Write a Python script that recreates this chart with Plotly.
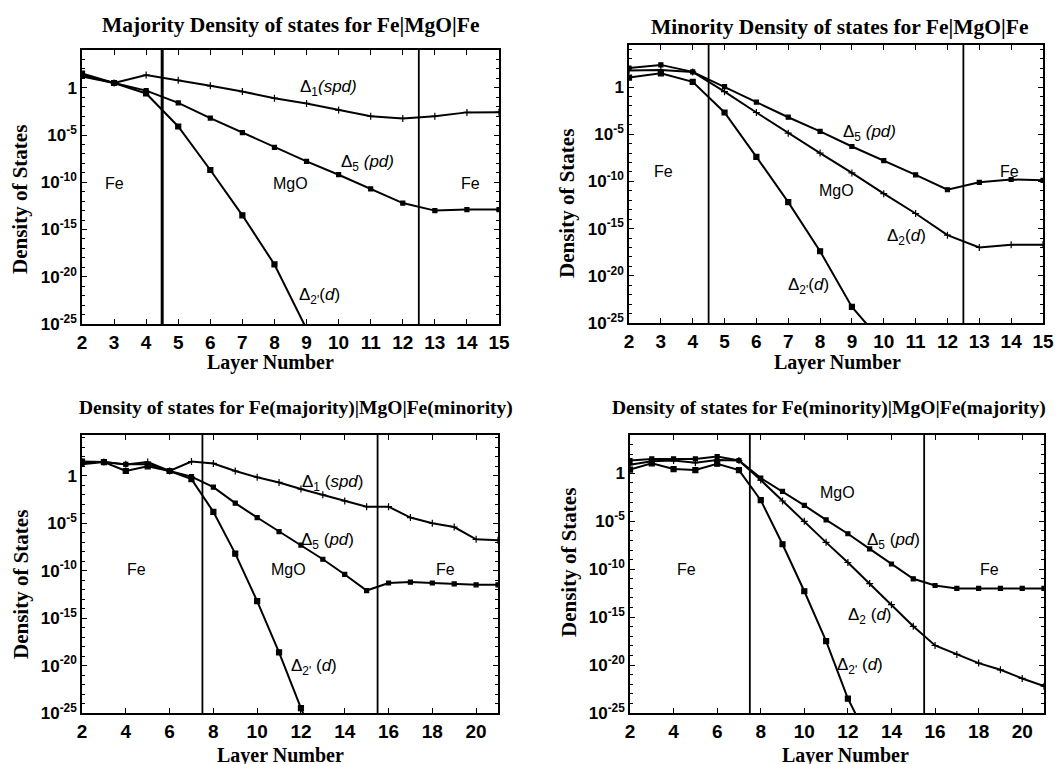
import plotly.graph_objects as go

# ---------------- data ----------------
layers_top = list(range(2, 16))
layers_bot = list(range(2, 22))

# Panel 1: Majority Fe|MgO|Fe
maj_d1 = [2.2e1, 3.2e0, 2.2e1, 6.3e0, 1.6e0, 4e-1, 8e-2, 2.2e-2, 4.4e-3, 1e-3, 5.7e-4, 1e-3, 2.5e-3, 2.6e-3]
maj_d5 = [1.6e1, 3.2e0, 5e-1, 2.5e-2, 6.3e-4, 1.8e-5, 5e-7, 1.6e-8, 6.3e-10, 2e-11, 6.3e-13, 1e-13, 1.3e-13, 1.3e-13]
maj_d2p = [3.2e1, 3.2e0, 2.5e-1, 8e-5, 2e-9, 3.2e-14, 2e-19, 3e-26]

# Panel 2: Minority Fe|MgO|Fe
min_d5 = [1e2, 2.2e2, 4e1, 1.1e0, 2.5e-2, 6.3e-4, 2e-5, 5e-7, 1.6e-8, 5e-10, 1.3e-11, 8e-11, 1.6e-10, 1.3e-10]
min_d2 = [5.6e1, 6.3e1, 4e1, 3.2e-1, 2e-3, 1.3e-5, 1e-7, 8e-10, 5e-12, 4e-14, 2e-16, 1e-17, 2e-17, 2e-17]
min_d2p = [1e1, 2.8e1, 3.5e0, 2e-3, 4e-8, 6.3e-13, 4e-18, 5e-24, 6.3e-28]

# Panel 3: Fe(majority)|MgO|Fe(minority)
mm_d1 = [2.8e1, 2.8e1, 1.6e1, 2.8e1, 3.2e0, 3.2e1, 2e1, 3.2e0, 7e-1, 2e-1, 4e-2, 1e-2, 2.2e-3, 5.6e-4,
         5.6e-4, 4e-5, 1e-5, 4e-6, 2e-7, 1.6e-7]
mm_d5 = [1.6e1, 2.8e1, 1.6e1, 1.6e1, 3.2e0, 8e-1, 6.3e-2, 1.3e-3, 4e-5, 1.3e-6, 5e-8, 1.6e-9, 4e-11, 8e-13,
         5e-12, 6.3e-12, 5e-12, 4e-12, 3.2e-12, 3.2e-12]
mm_d2p = [3.2e1, 2.8e1, 3.2e0, 1e1, 3.2e0, 4.5e-1, 1.6e-4, 6.3e-9, 6.3e-14, 2.5e-19, 3.2e-25, 1e-30]

# Panel 4: Fe(minority)|MgO|Fe(majority)
mj_d5 = [2.2e1, 3.2e1, 3.2e1, 3.2e1, 5.6e1, 2.2e1, 3.2e-1, 1.3e-2, 4.5e-4, 1.4e-5, 5e-7, 1.3e-8, 3.5e-10,
         1e-11, 2e-12, 1e-12, 1e-12, 1e-12, 1e-12, 1e-12]
mj_d2 = [8e0, 1.8e1, 2.2e1, 1.3e1, 2.5e1, 2.2e1, 2e-1, 1.3e-3, 1e-5, 6.3e-8, 5e-10, 3.2e-12, 2e-14, 1.1e-16,
         1.1e-18, 1.3e-19, 1.6e-20, 3.2e-21, 4e-22, 6.3e-23]
mj_d2p = [2.5e0, 1.1e1, 2.8e0, 2.2e0, 1e1, 2.2e0, 1.6e-3, 4e-8, 5e-13, 3.2e-18, 3.2e-24, 1e-28]

bounds_top = [4.5, 12.5]
bounds_bot = [7.5, 15.5]

titles = ["Majority Density of states for Fe|MgO|Fe",
          "Minority Density of states for Fe|MgO|Fe",
          "Density of states for Fe(majority)|MgO|Fe(minority)",
          "Density of states for Fe(minority)|MgO|Fe(majority)"]

ytick_vals = [1, 1e-5, 1e-10, 1e-15, 1e-20, 1e-25]
ytick_text = ["1", "10<sup>-5</sup>", "10<sup>-10</sup>", "10<sup>-15</sup>", "10<sup>-20</sup>", "10<sup>-25</sup>"]
yminor_vals = [10.0 ** k for k in range(-25, 5)]

# ---------------- figure ----------------
W, H = 1063, 764
OFF = 8  # page body margin around the plot div
fig = go.Figure()

def px_x(p):
    return (p - OFF) / W

def px_y(p):
    return 1 - (p - OFF) / H

# panel geometry in screen pixels: (left, right, top, bottom)
geo = [(82, 499, 50, 324), (629, 1043, 45, 323), (82, 498, 435, 713), (630, 1044, 435, 713)]
xranges = [[2, 15], [2, 15], [2, 21], [2, 21]]
yranges = [[-25, 4.0], [-25, 4.45], [-25, 4.3], [-25, 4.0]]
xticks = [list(range(2, 16)), list(range(2, 16)), list(range(2, 21, 2)), list(range(2, 21, 2))]

SANS = "Liberation Sans, Arial, sans-serif"
SERIF = "Liberation Serif, Times New Roman, serif"

for i, (l, r, t, b) in enumerate(geo):
    n = "" if i == 0 else str(i + 1)
    fig.layout["xaxis" + n] = dict(
        domain=[px_x(l), px_x(r)], anchor="y" + n, range=xranges[i], automargin=False,
        tickvals=xticks[i], ticks="inside", ticklen=5, tickwidth=1.2, tickcolor="black",
        showline=True, linecolor="black", linewidth=1.5, mirror="ticks", showgrid=False, zeroline=False,
        tickfont=dict(family=SANS, size=19, color="black", weight="bold"))
    fig.layout["yaxis" + n] = dict(
        domain=[px_y(b), px_y(t)], anchor="x" + n, type="log", range=yranges[i], automargin=False,
        tickvals=ytick_vals, ticktext=ytick_text, ticks="inside", ticklen=5, tickwidth=1.2, tickcolor="black",
        minor=dict(tickvals=yminor_vals, ticks="inside", ticklen=3, tickcolor="black", tickwidth=1),
        showline=True, linecolor="black", linewidth=1.5, mirror="ticks", showgrid=False, zeroline=False,
        tickfont=dict(family=SANS, size=17, color="black", weight="bold"))

def add_curve(i, x, y, symbol, size):
    n = "" if i == 0 else str(i + 1)
    fig.add_trace(go.Scatter(
        x=x[:len(y)], y=y, mode="lines+markers", xaxis="x" + n, yaxis="y" + n,
        line=dict(color="black", width=2),
        marker=dict(symbol=symbol, size=size, color="black", line=dict(color="black", width=1.2)),
        showlegend=False))

add_curve(0, layers_top, maj_d1, "cross-thin", 5)
add_curve(0, layers_top, maj_d5, "square", 4)
add_curve(0, layers_top, maj_d2p, "square", 5)

add_curve(1, layers_top, min_d5, "square", 4)
add_curve(1, layers_top, min_d2, "cross-thin", 5)
add_curve(1, layers_top, min_d2p, "square", 5)

add_curve(2, layers_bot, mm_d1, "cross-thin", 5)
add_curve(2, layers_bot, mm_d5, "square", 4)
add_curve(2, layers_bot, mm_d2p, "square", 5)

add_curve(3, layers_bot, mj_d5, "square", 4)
add_curve(3, layers_bot, mj_d2, "cross-thin", 5)
add_curve(3, layers_bot, mj_d2p, "square", 5)

# interface lines
shapes = []
bounds = [bounds_top, bounds_top, bounds_bot, bounds_bot]
widths = [[3, 1.8], [1.8, 1.8], [1.8, 1.8], [1.8, 1.8]]
for i in range(4):
    n = "" if i == 0 else str(i + 1)
    for k, bx in enumerate(bounds[i]):
        shapes.append(dict(type="line", xref="x" + n, yref="y" + n + " domain",
                           x0=bx, x1=bx, y0=0, y1=1, line=dict(color="black", width=widths[i][k])))
fig.update_layout(shapes=shapes)

ann = []

def label(i, x, ylog, text, size=17):
    n = "" if i == 0 else str(i + 1)
    ann.append(dict(xref="x" + n, yref="y" + n, x=x, y=ylog, text=text, showarrow=False,
                    font=dict(family=SANS, size=size, color="black")))

# panel 1
label(0, 9.7, 0.0, "Δ<sub>1</sub><i>(spd)</i>")
label(0, 10.9, -8.0, "Δ<sub>5</sub> <i>(pd)</i>")
label(0, 9.4, -22.0, "Δ<sub>2'</sub>(<i>d</i>)")
label(0, 3.0, -10.1, "Fe", 16)
label(0, 8.5, -10.1, "MgO", 16)
label(0, 14.1, -10.1, "Fe", 16)
# panel 2
label(1, 9.55, -4.9, "Δ<sub>5</sub> <i>(pd)</i>")
label(1, 10.7, -15.9, "Δ<sub>2</sub>(<i>d</i>)")
label(1, 7.65, -21.1, "Δ<sub>2'</sub>(<i>d</i>)")
label(1, 3.07, -9.0, "Fe", 16)
label(1, 8.5, -11.0, "MgO", 16)
label(1, 13.95, -8.9, "Fe", 16)
# panel 3
label(2, 13.45, -0.8, "Δ<sub>1</sub> (<i>spd</i>)")
label(2, 13.2, -6.9, "Δ<sub>5</sub> (<i>pd</i>)")
label(2, 12.6, -20.1, "Δ<sub>2'</sub> (<i>d</i>)")
label(2, 4.5, -9.9, "Fe", 16)
label(2, 11.45, -9.9, "MgO", 16)
label(2, 18.6, -9.9, "Fe", 16)
# panel 4
label(3, 11.5, -1.95, "MgO", 16)
label(3, 14.1, -7.1, "Δ<sub>5</sub> (<i>pd</i>)")
label(3, 13.0, -14.85, "Δ<sub>2</sub> (<i>d</i>)")
label(3, 12.55, -20.1, "Δ<sub>2'</sub> (<i>d</i>)")
label(3, 4.6, -10.0, "Fe", 16)
label(3, 18.5, -10.0, "Fe", 16)

# titles and axis titles (screen pixel placement)
title_pos = [(290, 25, 21.5), (839, 27, 21.5), (296, 408, 19.5), (829, 408, 19.5)]
for (cx, cy, fs), txt in zip(title_pos, titles):
    ann.append(dict(xref="paper", yref="paper", x=px_x(cx), y=px_y(cy), text="<b>" + txt + "</b>",
                    showarrow=False, xanchor="center", yanchor="middle",
                    font=dict(family=SERIF, size=fs, color="black")))

ytitle_pos = [(20, 200), (567, 204), (21, 585), (569, 563)]
for cx, cy in ytitle_pos:
    ann.append(dict(xref="paper", yref="paper", x=px_x(cx), y=px_y(cy), text="<b>Density of States</b>",
                    textangle=-90, showarrow=False, xanchor="center", yanchor="middle",
                    font=dict(family=SERIF, size=21, color="black")))

xtitle_pos = [(270, 362), (837, 362), (280, 755), (845, 755)]
for cx, cy in xtitle_pos:
    ann.append(dict(xref="paper", yref="paper", x=px_x(cx), y=px_y(cy), text="<b>Layer Number</b>",
                    showarrow=False, xanchor="center", yanchor="middle",
                    font=dict(family=SERIF, size=20, color="black")))

fig.update_layout(annotations=ann, width=W, height=H, margin=dict(l=0, r=0, t=0, b=0),
                  paper_bgcolor="white", plot_bgcolor="white", showlegend=False)

fig.write_html("out.html")
